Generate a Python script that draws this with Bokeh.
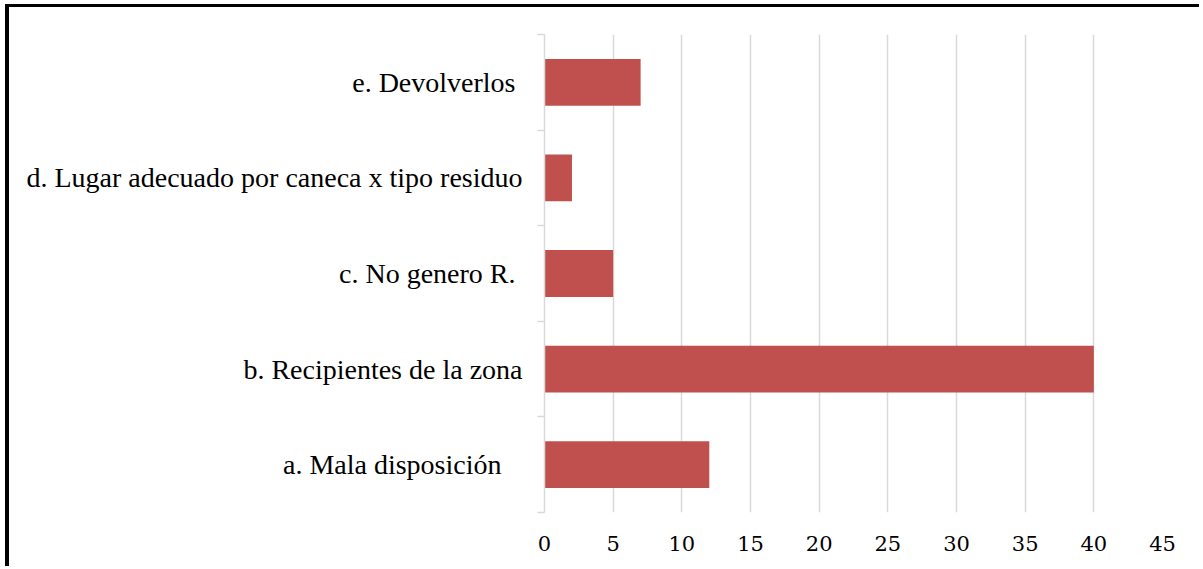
from bokeh.plotting import figure
from bokeh.models import Range1d, LinearAxis, FixedTicker, ColumnDataSource
from bokeh.embed import file_html
from bokeh.resources import INLINE

categories = ["a. Mala disposición   ", "b. Recipientes de la zona", "c. No genero R. ",
              "d. Lugar adecuado por caneca x tipo residuo", "e. Devolverlos "]
values = [12, 40, 5, 2, 7]
x_ticks = [0, 5, 10, 15, 20, 25, 30, 35, 40, 45]
bar_color = "#C0504D"
grid_color = "#D9D9D9"

n = len(categories)
centers = [i + 0.5 for i in range(n)]
bounds = list(range(n + 1))

p = figure(width=1194, height=562, output_backend="svg", toolbar_location=None,
           y_range=Range1d(0, n), x_range=Range1d(0, 45),
           x_axis_location=None, y_axis_location=None,
           min_border_left=535, min_border_right=41, min_border_top=27, min_border_bottom=57)
p.styles = {"margin-left": "5px", "margin-top": "4px",
            "border-left": "4px solid black", "border-top": "3px solid black"}
p.outline_line_color = None
p.background_fill_color = "white"
p.border_fill_color = "white"

src = ColumnDataSource(dict(y=centers, v=values, name=categories))
p.hbar(y="y", right="v", left=0, height=0.49, source=src, fill_color=bar_color, line_color=None)

# x axis (numbers)
xa = LinearAxis(ticker=FixedTicker(ticks=x_ticks, minor_ticks=[]))
xa.axis_line_color = None
xa.major_tick_line_color = None
xa.minor_tick_line_color = None
xa.major_label_text_font = "DejaVu Serif"
xa.major_label_text_font_size = "21px"
xa.major_label_text_color = "#000000"
xa.major_label_standoff = 17
p.add_layout(xa, "below")

# boundary ticks axis (ticks only)
ba = LinearAxis(ticker=FixedTicker(ticks=bounds, minor_ticks=[]),
                major_label_overrides={b: "" for b in bounds})
ba.axis_line_color = grid_color
ba.axis_line_width = 1.5
ba.major_tick_line_color = grid_color
ba.major_tick_line_width = 1.5
ba.major_tick_out = 7
ba.major_tick_in = 0
ba.minor_tick_line_color = None
ba.major_label_standoff = 0
p.add_layout(ba, "left")

# category labels axis
ca = LinearAxis(ticker=FixedTicker(ticks=centers, minor_ticks=[]),
                major_label_overrides={c: name for c, name in zip(centers, categories)})
ca.axis_line_color = None
ca.major_tick_line_color = None
ca.minor_tick_line_color = None
ca.major_label_text_font = "Liberation Serif"
ca.major_label_text_font_size = "28px"
ca.major_label_text_color = "#000000"
ca.major_label_standoff = 9
p.add_layout(ca, "left")

p.xgrid.ticker = FixedTicker(ticks=x_ticks)
p.xgrid.grid_line_color = grid_color
p.xgrid.grid_line_width = 1.5
p.ygrid.grid_line_color = None

open("out.html", "w").write(file_html(p, INLINE))
